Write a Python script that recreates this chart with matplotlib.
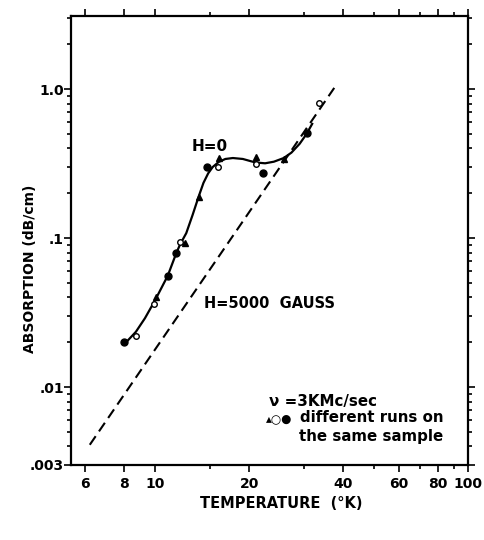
# -*- coding: utf-8 -*-
"""
absorption vs temperature (log-log), H=0 curve and H=5000 gauss dashed line
"""
import numpy as np
import matplotlib
matplotlib.use('Agg')
import matplotlib.pyplot as plt
from matplotlib.ticker import FixedLocator, FixedFormatter, LogLocator, NullFormatter

plt.rcParams['font.family'] = ['DejaVu Sans']
plt.rcParams['font.weight'] = 'bold'

# 1. data
# filled circles
t_fill = [8.0, 11.0, 11.7, 14.7, 22.1, 30.5]
a_fill = [0.020, 0.056, 0.080, 0.30, 0.275, 0.51]
# open circles
t_open = [8.7, 9.95, 12.05, 15.9, 21.0, 33.5]
a_open = [0.022, 0.036, 0.094, 0.30, 0.315, 0.81]
# triangles
t_tri = [10.1, 12.5, 13.8, 16.0, 21.0, 25.8]
a_tri = [0.040, 0.093, 0.19, 0.345, 0.35, 0.34]

# hand drawn H=0 curve
t_curve = [8.08, 8.7, 9.3, 10.0, 11.0, 11.7, 12.05, 12.6, 13.2, 13.8, 14.3, 14.8,
           15.3, 16.0, 16.8, 17.75, 19.1, 20.3, 21.0, 22.5, 24.0, 25.8, 27.3, 29.0,
           30.5, 31.8]
a_curve = [0.0199, 0.0235, 0.029, 0.038, 0.056, 0.079, 0.091, 0.108, 0.143, 0.19,
           0.235, 0.272, 0.300, 0.325, 0.340, 0.345, 0.340, 0.328, 0.322, 0.318,
           0.326, 0.345, 0.375, 0.43, 0.50, 0.585]

# H=5000 gauss dashed line
t_dash = [6.2, 37.4]
a_dash = [0.0041, 1.02]

x_major = [6, 8, 10, 20, 40, 60, 80, 100]
x_minor = [15, 30, 50, 70, 90]
y_major = [0.003, 0.01, 0.1, 1.0]
y_labels = ['.003', '.01', '.1', '1.0']

# 2. figure
fig = plt.figure(figsize=(4.84, 5.40), dpi=100)
ax = fig.add_axes([0.1467, 0.1389, 0.8203, 0.8315])
ax.set_xscale('log')
ax.set_yscale('log')

ax.plot(t_curve, a_curve, '-', color='black', lw=1.6, solid_joinstyle='round')
ax.plot(t_dash, a_dash, color='black', lw=1.5, dashes=(5, 2.8))

ax.plot(t_fill, a_fill, 'o', color='black', ms=5.0, zorder=3)
ax.plot(t_open, a_open, 'o', mfc='white', mec='black', mew=1.0, ms=4.0, zorder=3)
ax.plot(t_tri, a_tri, '^', color='black', ms=3.8, zorder=3)

ax.set_xlim(5.4, 100)
ax.set_ylim(0.003, 3.1)

# 3. ticks
ax.xaxis.set_major_locator(FixedLocator(x_major))
ax.xaxis.set_major_formatter(FixedFormatter([str(v) for v in x_major]))
ax.xaxis.set_minor_locator(FixedLocator(x_minor))
ax.xaxis.set_minor_formatter(NullFormatter())
ax.yaxis.set_major_locator(FixedLocator(y_major))
ax.yaxis.set_major_formatter(FixedFormatter(y_labels))
ax.yaxis.set_minor_locator(LogLocator(base=10, subs=np.arange(2, 10)))
ax.yaxis.set_minor_formatter(NullFormatter())

ax.tick_params(which='both', direction='out', top=True, right=True, width=1.2)
ax.tick_params(which='major', length=5, labelsize=10)
ax.tick_params(which='minor', length=3)
ax.tick_params(axis='y', pad=0)
ax.tick_params(axis='x', pad=4)
for s in ax.spines.values():
    s.set_linewidth(1.6)

# 4. text
ax.set_xlabel('TEMPERATURE  (°K)', fontsize=10.5, fontweight='bold')
ax.xaxis.set_label_coords(0.529, -0.07)
ax.set_ylabel('ABSORPTION (dB/cm)', fontsize=10, fontweight='bold')
ax.yaxis.set_label_coords(-0.085, 0.4365)

ax.text(13.1, 0.41, 'H=0', fontsize=11, fontweight='bold', va='center', ha='left')
ax.text(14.35, 0.0365, 'H=5000  GAUSS', fontsize=10.5, fontweight='bold', va='center', ha='left')

ax.text(0.498, 0.141, 'ν =3KMc/sec', transform=ax.transAxes, fontsize=10.8,
        fontweight='bold', va='center', ha='left')
ax.text(0.557, 0.103, '▴○●', transform=ax.transAxes, fontsize=8.5,
        va='center', ha='right')
ax.text(0.937, 0.105, 'different runs on', transform=ax.transAxes, fontsize=10.8,
        fontweight='bold', va='center', ha='right')
ax.text(0.937, 0.063, 'the same sample', transform=ax.transAxes, fontsize=10.8,
        fontweight='bold', va='center', ha='right')

plt.savefig('out.png', dpi=100)
